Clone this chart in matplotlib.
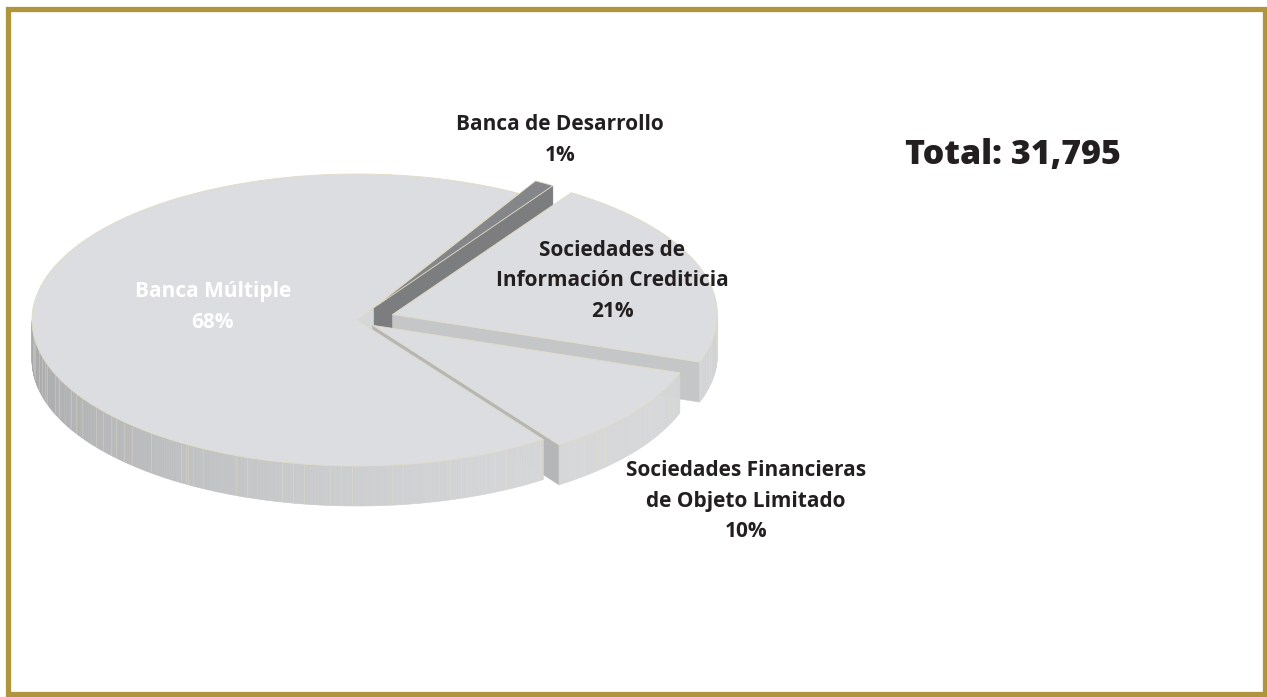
import numpy as np
import matplotlib
matplotlib.use('Agg')
import matplotlib.pyplot as plt
from matplotlib.patches import Polygon, Rectangle

# ---- data ----
categories = ['Sociedades Financieras\nde Objeto Limitado',
              'Sociedades de\nInformación Crediticia',
              'Banca de Desarrollo',
              'Banca Múltiple']
shares = [10, 21, 1, 68]
pct_labels = ['10%', '21%', '1%', '68%']
total_label = 'Total: 31,795'

# ---- style / layout ----
explode = [0.06, 0.115, 0.10, 0.0]
top_colors = ['#dcdde0', '#dcdde0', '#858689', '#dcdde0']
dark_factor = [1.0, 1.0, 0.58, 1.0]
label_pos = [(746, 501), (612, 281), (560, 140), (213, 307)]
label_colors = ['#231f20', '#231f20', '#231f20', '#ffffff']

W, H = 1267, 697
fig = plt.figure(figsize=(W / 100, H / 100), dpi=100)
ax = fig.add_axes([0, 0, 1, 1])
ax.set_xlim(0, W)
ax.set_ylim(H, 0)
ax.axis('off')

cx, cy, rx, ry, depth = 357, 320, 325, 146, 40
start = -55.0

def pt(theta, r, ox, oy, z=0.0):
    t = np.radians(theta)
    return (cx + ox + r * rx * np.cos(t), cy + oy - r * ry * np.sin(t) + z)

def shade(n_deg, f=1.0):
    c = np.cos(np.radians(n_deg + 40))
    b = (0.735 + 0.105 * c) * f
    return (min(b, 1), min(b + 0.004, 1), min(b + 0.012, 1))

total = float(sum(shares))
bounds = []
a = start
for s in shares:
    b = a + 360.0 * s / total
    bounds.append((a, b))
    a = b

radial = []
walls = []
tops = []
for i, (a, b) in enumerate(bounds):
    m = np.radians((a + b) / 2)
    ox = explode[i] * rx * np.cos(m)
    oy = -explode[i] * ry * np.sin(m)
    apex = (cx + ox, cy + oy)
    th = np.linspace(a, b, max(int(abs(b - a) * 2), 4))
    poly = [apex] + [pt(t, 1, ox, oy) for t in th]
    tops.append((poly, top_colors[i]))
    if np.cos(np.radians(a)) > 0:
        p1 = pt(a, 1, ox, oy)
        face = [apex, p1, (p1[0], p1[1] + depth), (apex[0], apex[1] + depth)]
        radial.append((a, face, shade(a - 90, dark_factor[i])))
    if np.cos(np.radians(b)) < 0:
        p1 = pt(b, 1, ox, oy)
        face = [apex, p1, (p1[0], p1[1] + depth), (apex[0], apex[1] + depth)]
        radial.append((b, face, shade(b + 90, dark_factor[i])))
    step = 0.5
    t = a
    while t < b - 1e-9:
        t2 = min(t + step, b)
        tm = (t + t2) / 2
        if np.sin(np.radians(tm)) < 0:
            q1 = pt(t, 1, ox, oy)
            q2 = pt(t2, 1, ox, oy)
            quad = [q1, q2, (q2[0], q2[1] + depth), (q1[0], q1[1] + depth)]
            walls.append((q1[1], quad, shade(tm, dark_factor[i]), tm))
        t = t2

for ang, face, col in sorted(radial, key=lambda r: -r[0]):
    ax.add_patch(Polygon(face, closed=True, facecolor=col, edgecolor=col, lw=0.3))

walls_sorted = sorted(walls, key=lambda w: w[0])
for key, quad, col, tm in walls_sorted:
    ax.add_patch(Polygon(quad, closed=True, facecolor=col, edgecolor=col, lw=0.4))

# faint vertical stripes on walls
golden = 0.6180339887
for k, (key, quad, col, tm) in enumerate(walls_sorted):
    frac = (k * golden) % 1.0
    if frac < 0.15:
        x0, y0 = quad[0]
        ax.plot([x0, x0], [y0 + 0.5, y0 + depth - 0.5], color='#e6dfc2',
                lw=0.6, alpha=0.4, solid_capstyle='butt')

for poly, col in tops:
    ax.add_patch(Polygon(poly, closed=True, facecolor=col, edgecolor='#e2dcc6', lw=0.6,
                         joinstyle='miter'))

font = 'Open Sans'
for i, name in enumerate(categories):
    x, y = label_pos[i]
    ax.text(x, y, name + '\n' + pct_labels[i], ha='center', va='center',
            fontsize=15, fontweight='bold', color=label_colors[i],
            family=font, linespacing=1.6)

ax.text(1013, 155, total_label, ha='center', va='center', fontsize=24.5,
        fontweight='heavy', color='#231f20', family='Open Sans')

ax.add_patch(Rectangle((7.5, 8.5), 1257.5, 685.5, fill=False, edgecolor='#b0953f', lw=3.8))

fig.savefig('out.png', dpi=100)
